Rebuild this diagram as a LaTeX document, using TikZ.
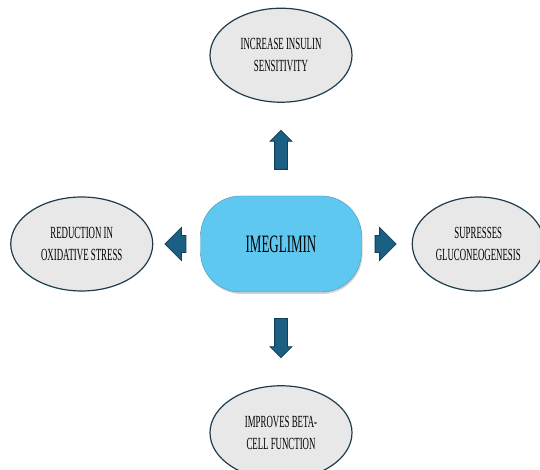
\documentclass[tikz,border=0pt]{standalone}
\usepackage{fontspec}
\newfontfamily\narrowserif{Liberation Serif}[FakeStretch=0.52]
\usetikzlibrary{positioning}
\usetikzlibrary{shapes.geometric}
\usetikzlibrary{shapes.arrows}
\usetikzlibrary{shadows}
\definecolor{effectbg}{HTML}{E8E8E8}
\definecolor{effectline}{HTML}{1E3C50}
\definecolor{corebg}{HTML}{5FC8F1}
\definecolor{arrowbg}{HTML}{1B5F83}
\definecolor{arrowline}{HTML}{123F58}

\begin{document}
\begin{tikzpicture}[x=1pt,y=1pt,
    effect/.style={ellipse,draw=effectline,line width=1.2pt,fill=effectbg,
      minimum width=142pt,minimum height=94pt,inner sep=0pt,align=center,
      font=\narrowserif\fontsize{17}{22}\selectfont},
    vblock/.style={single arrow,draw=arrowline,fill=arrowbg,line width=0.8pt,
      inner sep=6pt,minimum height=39pt,minimum width=21pt,
      single arrow head extend=4.5pt},
    hblock/.style={single arrow,draw=arrowline,fill=arrowbg,line width=0.8pt,
      inner xsep=1pt,inner ysep=8pt,minimum height=21pt,minimum width=33pt,
      single arrow head extend=8pt}]
    \useasboundingbox (0,0) rectangle (540,470);
    % Centre
    \node[rectangle,rounded corners=40pt,fill=corebg,draw=corebg!75!black,
      line width=0.4pt,minimum width=161pt,minimum height=96pt,
      drop shadow={opacity=0.35,shadow xshift=1pt,shadow yshift=-2pt},
      font=\narrowserif\fontsize{25}{30}\selectfont] (core) at (281,226) {IMEGLIMIN};
    % Arrows
    \node[vblock,shape border rotate=90,above=26pt of core,anchor=tail] (uparrow) {};
    \node[vblock,shape border rotate=270,below=26pt of core,anchor=tail] (downarrow) {};
    \node[hblock,shape border rotate=180,left=14pt of core,anchor=tail] (leftarrow) {};
    \node[hblock,shape border rotate=0,right=13pt of core,anchor=tail] (rightarrow) {};
    % Effects
    \node[effect,above=27pt of uparrow.tip] (insulin) {INCREASE INSULIN\\SENSITIVITY};
    \node[effect,below=27pt of downarrow.tip] (betacell) {IMPROVES BETA-\\CELL FUNCTION};
    \node[effect,left=11pt of leftarrow.tip] (stress) {REDUCTION IN\\OXIDATIVE STRESS};
    \node[effect,minimum width=132pt,right=15pt of rightarrow.tip] (gluco) {SUPRESSES\\GLUCONEOGENESIS};
\end{tikzpicture}
\end{document}
